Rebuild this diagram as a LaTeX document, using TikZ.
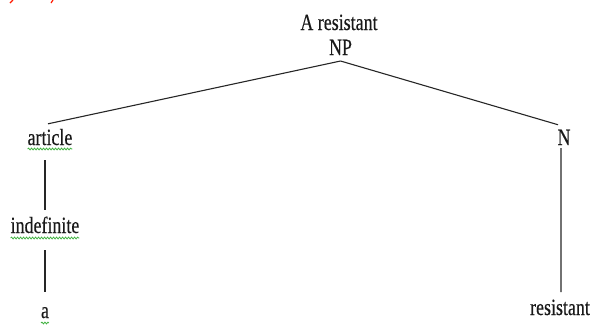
\documentclass[tikz,border=0pt]{standalone}
\usepackage{fontspec}
\usepackage{graphicx}
\setmainfont[FakeBold=0.4]{Liberation Serif}
\usetikzlibrary{decorations.pathmorphing}
% words are set a little taller than wide
\newcommand{\tallword}[1]{\scalebox{1}[1.3]{#1}}
\begin{document}
\begin{tikzpicture}[x=1bp,y=-1bp,
  word/.style={anchor=base,inner sep=0pt,outer sep=0pt,
    font=\fontsize{18}{20}\selectfont,text=black!90},
  branch/.style={draw=black!85,line width=1.1bp},
  squiggle/.style={draw=green!60!black!75,line width=0.8bp,decorate,
    decoration={snake,amplitude=0.9bp,segment length=3bp}}]
\useasboundingbox (0,0) rectangle (590,324);

% remains of a red line above the tree
\draw[red!80!orange,line width=1.2bp] (10,3) -- (13,0);
\draw[red!80!orange,line width=1.2bp] (51,3) -- (53,0);

% labels
\node[word] (title)  at (339,30)  {\tallword{A resistant}};
\node[word] (np)     at (340.5,55) {\tallword{NP}};
\node[word] (art)    at (50,145)  {\tallword{article}};
\node[word] (indef)  at (45,233)  {\tallword{indefinite}};
\node[word] (a)      at (45,318)  {\tallword{a}};
\node[word] (n)      at (564,145) {\tallword{N}};
\node[word] (res)    at (560,315) {\tallword{resistant}};

% branches from NP
\draw[branch] ([yshift=-6bp]np.south) -- ([xshift=-2bp,yshift=5bp]art.north);
\draw[branch] ([yshift=-6bp]np.south) -- ([xshift=-6bp,yshift=5bp]n.north);

% unary branches
\draw[branch] ([yshift=-15bp]indef.north |- art.base) -- ([yshift=7bp]indef.north);
\draw[branch] ([yshift=-17bp]indef.base) -- ([yshift=-2bp]a.base |- 0,290);
\draw[branch] ([xshift=-3bp,yshift=-3bp]n.base) -- ([xshift=1bp]res.base |- 0,292);

% spell-check underlines
\draw[squiggle] ([yshift=-4bp]art.base west) -- ([yshift=-4bp]art.base east);
\draw[squiggle] ([yshift=-5bp]indef.base west) -- ([yshift=-5bp]indef.base east);
\draw[squiggle] ([yshift=-5bp]a.base west) -- ([yshift=-5bp]a.base east);
\end{tikzpicture}
\end{document}
